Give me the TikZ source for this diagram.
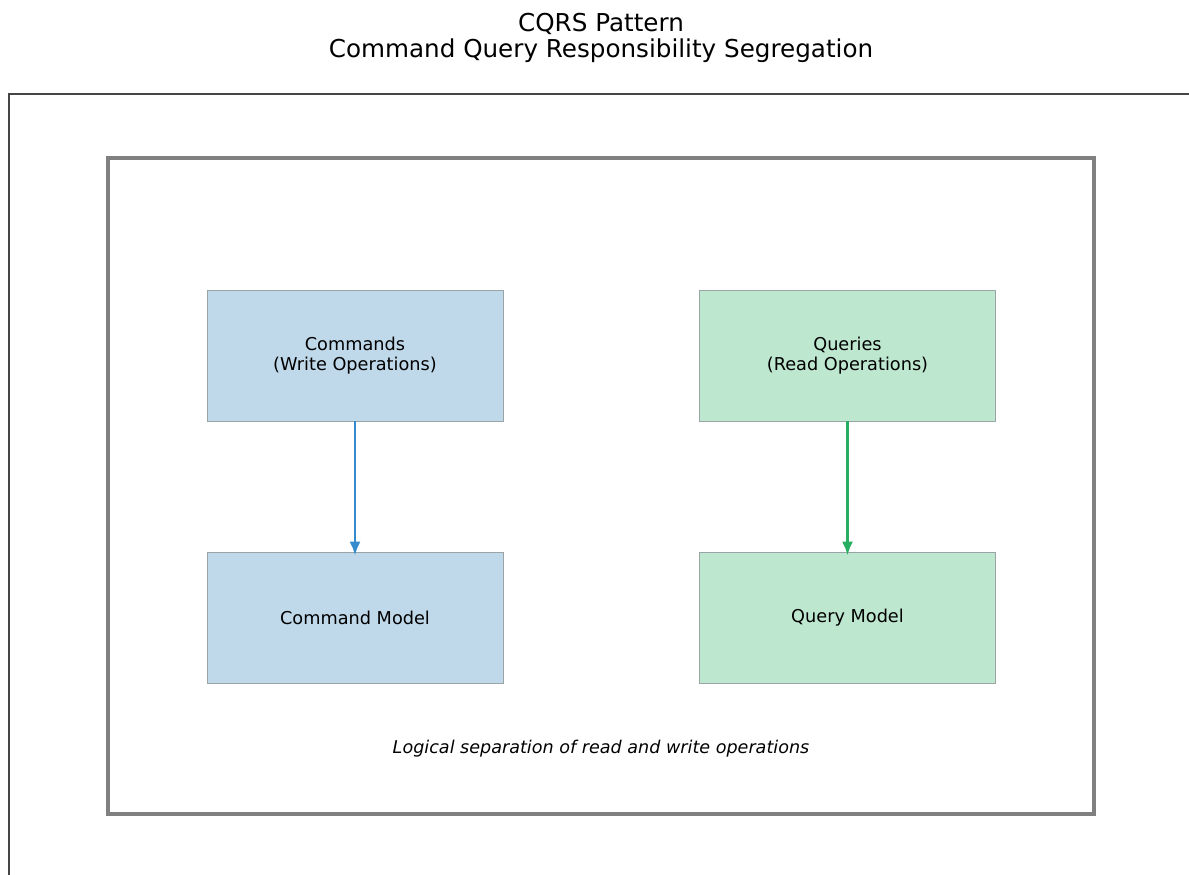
\documentclass[tikz,border=0pt]{standalone}
\usepackage{fontspec}
\setmainfont{DejaVu Sans}
\usepackage{tikz}
\usetikzlibrary{arrows.meta,positioning}
\definecolor{cmdfill}{HTML}{BFD9EA}
\definecolor{qryfill}{HTML}{BEE7CF}
\definecolor{cmdline}{HTML}{358BCB}
\definecolor{qryline}{HTML}{27AE60}
\definecolor{boxedge}{HTML}{9AA3A6}

\begin{document}
\begin{tikzpicture}[x=0.0254cm, y=-0.0254cm,
      block/.style={draw=boxedge, line width=0.7pt, minimum width=296*0.0254cm, minimum height=131*0.0254cm, align=center, font=\fontsize{12.8}{14.4}\selectfont, inner sep=0pt},
      cmdblock/.style={block, fill=cmdfill},
      qryblock/.style={block, fill=qryfill},
      arrowstyle/.style={-{Latex[length=10pt,width=8pt]}, line width=1.9pt}
    ]
    \useasboundingbox (0,0) rectangle (1189,875);
    \node[align=center, font=\fontsize{17.8}{19.4}\selectfont] (title) at (601,38) {CQRS Pattern\\Command Query Responsibility Segregation};
    \draw[color=black!73, line width=1.1pt] (9,875) -- (9,94) -- (1189,94);
    \draw[color=black!50, line width=2.2pt] (108,158) rectangle (1094,814);

    \node[cmdblock] (commands) at (355,355.5) {Commands\\(Write Operations)};
    \node[qryblock] (queries) at (847.5,355.5) {Queries\\(Read Operations)};
    \node[cmdblock] (cmdmodel) at (355,617.5) {Command Model};
    \node[qryblock] (qrymodel) at (847.5,617.5) {Query Model};
    \node[font=\fontsize{12.7}{14}\selectfont\itshape] (caption) at (601,749) {Logical separation of read and write operations};

    \draw[arrowstyle, cmdline] (commands) -- ([yshift=-4*0.0254cm]cmdmodel.north);
    \draw[arrowstyle, qryline] (queries) -- ([yshift=-4*0.0254cm]qrymodel.north);
  \end{tikzpicture}
\end{document}
